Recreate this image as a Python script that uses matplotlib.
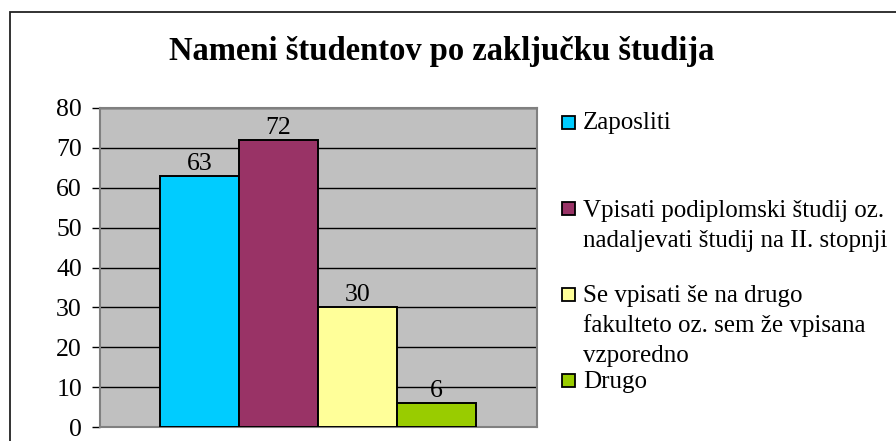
import matplotlib
matplotlib.use("Agg")
import matplotlib.pyplot as plt
from matplotlib.patches import Rectangle

title = "Nameni študentov po zaključku študija"
categories = ["Zaposliti",
              "Vpisati podiplomski študij oz.\nnadaljevati študij na II. stopnji",
              "Se vpisati še na drugo\nfakulteto oz. sem že vpisana\nvzporedno",
              "Drugo"]
values = [63, 72, 30, 6]
colors = ["#00CCFF", "#993366", "#FFFF99", "#99CC00"]
yticks = [0, 10, 20, 30, 40, 50, 60, 70, 80]

W, H = 896, 441
plt.rcParams['font.family'] = ['Liberation Serif', 'DejaVu Serif']
fig = plt.figure(figsize=(W / 100, H / 100), dpi=100)

def fx(px):
    return px / W

def fy(py):
    return 1 - py / H

# outer chart border
fig.patches.append(Rectangle((fx(10), -0.02), 1.05, fy(12) + 0.02, transform=fig.transFigure,
                             fill=False, edgecolor="#222222", linewidth=1.3))

# axes
left, right, top, bottom = 100, 537, 108, 427
ax = fig.add_axes([fx(left), fy(bottom), fx(right - left), (bottom - top) / H])
ax.set_facecolor("#C0C0C0")
xs = list(range(len(values)))
bars = ax.bar(xs, values, width=1.0, color=colors, edgecolor="black", linewidth=1.4, zorder=3)
bar_px = 79.0
ax.set_xlim(-0.5 - 60 / bar_px, -0.5 - 60 / bar_px + (right - left) / bar_px)
ax.set_ylim(0, 80)
ax.set_yticks(yticks)
ax.set_yticklabels([str(t) for t in yticks], fontsize=18.5)
ax.set_xticks([])
ax.yaxis.grid(True, color="black", linewidth=1.0, zorder=1)
ax.set_axisbelow(True)
ax.tick_params(axis="y", length=6, width=1.0, pad=7, color="black")
for s in ["top", "right", "bottom", "left"]:
    ax.spines[s].set_color("#808080")
    ax.spines[s].set_linewidth(1.5)

for x, v in zip(xs, values):
    ax.annotate(str(v), (x, v), xytext=(0, 4.5), textcoords="offset points",
                ha="center", va="baseline", fontsize=18.5)

# title
fig.text(fx(442), fy(60), title, ha="center", va="baseline", fontsize=23.5, fontweight="bold")

# legend (manual, Excel style)
sq_centers = [122, 208, 294, 380]
baselines = [129, 217, 302, 388]
line_step = 30
sq = 13
for cat, col, cy, bl in zip(categories, colors, sq_centers, baselines):
    fig.patches.append(Rectangle((fx(562), fy(cy + sq / 2)), sq / W, sq / H,
                                 transform=fig.transFigure, facecolor=col,
                                 edgecolor="black", linewidth=1.3))
    for i, line in enumerate(cat.split("\n")):
        fig.text(fx(583), fy(bl + i * line_step), line, ha="left", va="baseline", fontsize=18)

fig.savefig("out.png", dpi=100)
